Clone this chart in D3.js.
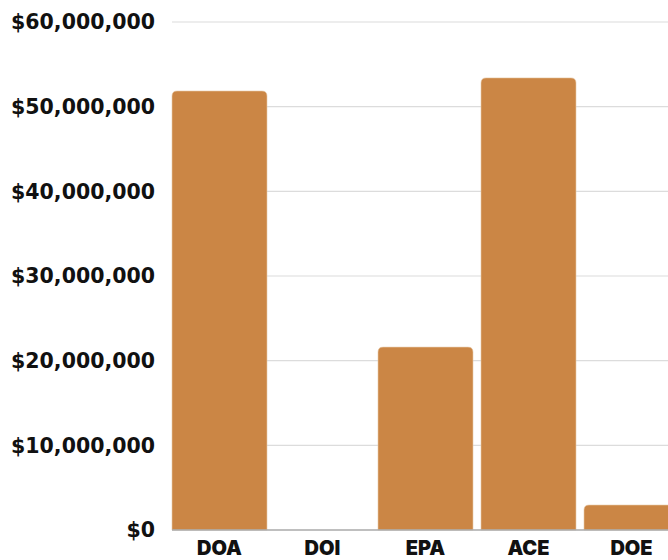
<!DOCTYPE html>
<html>
<head>
<meta charset="utf-8">
<script src="https://cdn.jsdelivr.net/npm/d3@7"></script>
<style>
  html, body { margin: 0; padding: 0; background: #fff; }
  svg { display: block; }
</style>
</head>
<body>
<svg id="chart"></svg>
<script>
// 数据
const agencies = ["DOA", "DOI", "EPA", "ACE", "DOE"];
const funding = [51850000, 0, 21600000, 53400000, 2950000];
const yTicks = [0, 10000000, 20000000, 30000000, 40000000, 50000000, 60000000];

const width = 668;
const height = 560;
const margin = { top: 22, right: 0, bottom: 30, left: 172 };

const svg = d3.select("#chart")
    .attr("width", width)
    .attr("height", height);

// 比例尺（最后一根柱子被裁掉一部分）
const step = 103, gap = 8;
const x = d3.scaleBand()
    .domain(agencies)
    .range([margin.left, margin.left + step * agencies.length - gap])
    .paddingInner(gap / step)
    .paddingOuter(0);

const y = d3.scaleLinear()
    .domain([0, 60000000])
    .range([height - margin.bottom, margin.top]);

const fmt = d => "$" + d3.format(",")(d);

// 网格线
svg.append("g")
    .selectAll("line")
    .data(yTicks.filter(d => d > 0))
    .join("line")
    .attr("x1", margin.left)
    .attr("x2", width)
    .attr("y1", d => y(d))
    .attr("y2", d => y(d))
    .attr("stroke", "#dcdcdc")
    .attr("stroke-width", 1.2);

// y 轴标签
svg.append("g")
    .selectAll("text")
    .data(yTicks)
    .join("text")
    .attr("x", 155)
    .attr("y", d => y(d))
    .attr("dy", "0.36em")
    .attr("text-anchor", "end")
    .attr("font-family", "'DejaVu Sans', sans-serif")
    .attr("font-weight", 700)
    .attr("font-size", 20.5)
    .attr("fill", "#111")
    .text(fmt);

// 顶部圆角柱子
function barPath(x0, w, yTop, yBot, r) {
    const h = yBot - yTop;
    if (h <= 0) return "";
    r = Math.min(r, h, w / 2);
    return `M${x0},${yBot}V${yTop + r}Q${x0},${yTop} ${x0 + r},${yTop}` +
        `H${x0 + w - r}Q${x0 + w},${yTop} ${x0 + w},${yTop + r}V${yBot}Z`;
}

const data = agencies.map((a, i) => ({ agency: a, value: funding[i] }));

svg.append("g")
    .selectAll("path")
    .data(data)
    .join("path")
    .attr("d", d => barPath(x(d.agency), x.bandwidth(), y(d.value), y(0), 5))
    .attr("fill", "#cb8645")
    .attr("stroke", "#e8c9a8")
    .attr("stroke-width", 0.6);

// 基线
svg.append("line")
    .attr("x1", margin.left)
    .attr("x2", width)
    .attr("y1", y(0))
    .attr("y2", y(0))
    .attr("stroke", "#aaaaaa")
    .attr("stroke-width", 1.5);

// x 轴标签
svg.append("g")
    .selectAll("text")
    .data(agencies)
    .join("text")
    .attr("x", d => x(d) + x.bandwidth() / 2)
    .attr("y", 555)
    .attr("text-anchor", "middle")
    .attr("font-family", "Inter, sans-serif")
    .attr("font-weight", 900)
    .attr("font-size", 20)
    .attr("fill", "#111")
    .text(d => d);
</script>
</body>
</html>
